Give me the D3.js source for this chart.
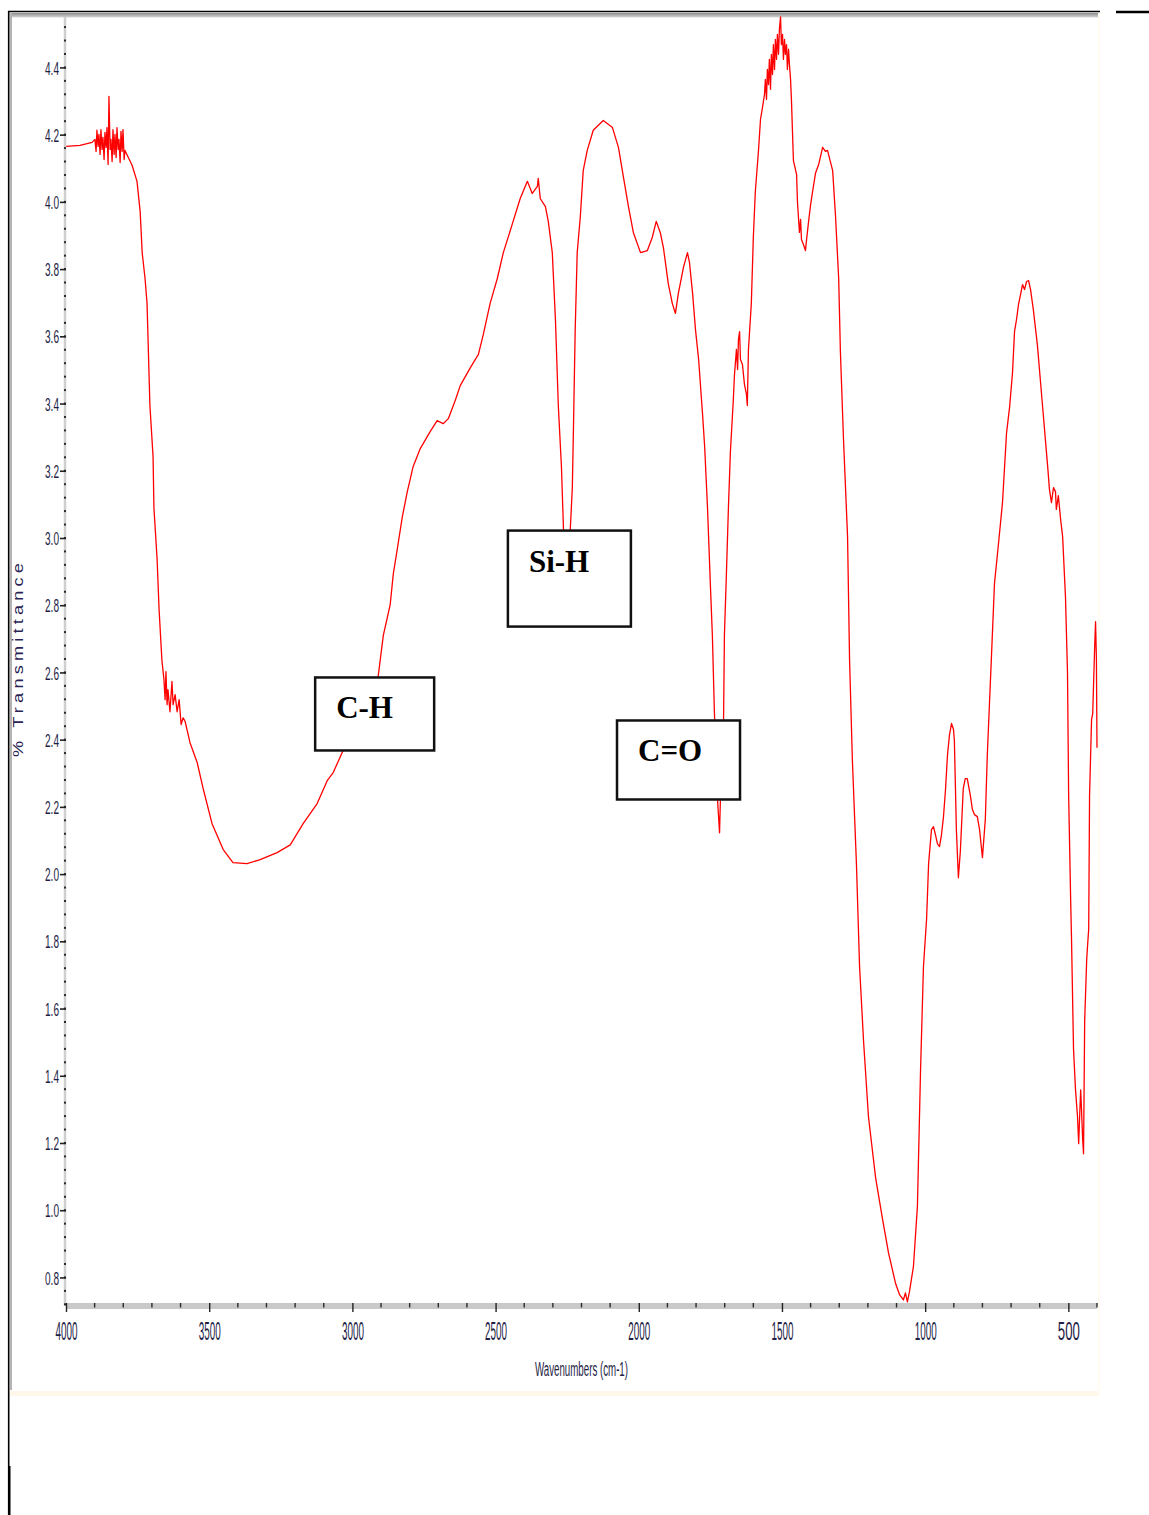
<!DOCTYPE html>
<html>
<head>
<meta charset="utf-8">
<script src="https://cdn.jsdelivr.net/npm/d3@7"></script>
<style>
  html, body { margin: 0; padding: 0; background: #ffffff; }
  svg { display: block; }
</style>
</head>
<body>
<div id="chart"></div>
<script>
// FTIR spectrum: wavenumber (cm-1) and % transmittance
const wavenumber = [
  4000, 3951, 3909, 3899, 3895, 3892, 3888, 3885, 3881, 3878, 3874, 3871, 3867, 3864, 3860, 3857,
  3853, 3850, 3846, 3843, 3839, 3836, 3832, 3829, 3825, 3822, 3818, 3815, 3811, 3808, 3804, 3801,
  3797, 3794, 3769, 3752, 3741, 3734, 3724, 3717, 3713, 3707, 3696, 3693, 3682, 3675, 3665, 3658,
  3654, 3651, 3647, 3644, 3637, 3630, 3626, 3619, 3612, 3605, 3598, 3591, 3584, 3567, 3542, 3521,
  3490, 3451, 3417, 3368, 3322, 3263, 3217, 3172, 3123, 3088, 3067, 3036, 2910, 2892, 2868, 2857,
  2843, 2826, 2809, 2788, 2763, 2728, 2704, 2683, 2665, 2641, 2623, 2588, 2560, 2543, 2519, 2494,
  2473, 2442, 2414, 2389, 2372, 2354, 2351, 2344, 2326, 2316, 2302, 2291, 2281, 2270, 2263, 2253,
  2239, 2232, 2228, 2222, 2215, 2204, 2194, 2180, 2159, 2124, 2092, 2071, 2054, 2036, 2019, 1994,
  1970, 1953, 1939, 1925, 1914, 1897, 1883, 1872, 1862, 1844, 1830, 1823, 1812, 1802, 1791, 1777,
  1770, 1760, 1750, 1743, 1736, 1729, 1725, 1718, 1715, 1708, 1704, 1701, 1694, 1687, 1680, 1670,
  1666, 1659, 1655, 1652, 1648, 1645, 1638, 1631, 1624, 1621, 1617, 1607, 1600, 1593, 1582, 1575,
  1568, 1561, 1558, 1554, 1551, 1547, 1544, 1540, 1537, 1533, 1530, 1526, 1523, 1519, 1516, 1512,
  1509, 1505, 1502, 1498, 1495, 1491, 1488, 1484, 1481, 1477, 1474, 1470, 1467, 1460, 1449, 1446,
  1439, 1435, 1432, 1425, 1418, 1414, 1407, 1400, 1393, 1383, 1372, 1358, 1348, 1341, 1323, 1313,
  1302, 1296, 1285, 1271, 1264, 1254, 1240, 1229, 1215, 1198, 1173, 1149, 1128, 1103, 1089, 1076,
  1069, 1062, 1055, 1041, 1027, 1016, 1006, 995, 988, 978, 971, 964, 957, 950, 943, 936,
  929, 922, 915, 908, 901, 898, 891, 884, 877, 867, 860, 853, 842, 835, 828, 818,
  810, 800, 790, 783, 769, 758, 744, 730, 716, 705, 695, 688, 681, 674, 667, 660,
  653, 646, 639, 632, 622, 608, 590, 572, 566, 559, 552, 545, 542, 535, 527, 520,
  510, 503, 499, 492, 489, 482, 475, 468, 464, 461, 457, 454, 450, 447, 443, 436,
  433, 429, 426, 419, 415, 408, 405, 402, 400
];
const transmittance = [
  4.165, 4.168, 4.177, 4.186, 4.150, 4.213, 4.165, 4.201, 4.141, 4.215, 4.156, 4.192, 4.126, 4.207, 4.162, 4.221,
  4.111, 4.314, 4.156, 4.186, 4.120, 4.215, 4.141, 4.201, 4.132, 4.221, 4.156, 4.186, 4.117, 4.210, 4.150, 4.215,
  4.126, 4.153, 4.108, 4.061, 3.971, 3.849, 3.772, 3.698, 3.576, 3.394, 3.242, 3.090, 2.939, 2.787, 2.635, 2.579,
  2.519, 2.602, 2.504, 2.549, 2.483, 2.573, 2.504, 2.534, 2.483, 2.519, 2.445, 2.465, 2.454, 2.391, 2.332, 2.254,
  2.150, 2.073, 2.034, 2.031, 2.043, 2.064, 2.087, 2.150, 2.210, 2.278, 2.302, 2.361, 2.588, 2.710, 2.802, 2.894,
  2.968, 3.061, 3.135, 3.212, 3.266, 3.317, 3.349, 3.340, 3.355, 3.409, 3.454, 3.507, 3.546, 3.605, 3.698, 3.772,
  3.849, 3.933, 4.010, 4.061, 4.025, 4.046, 4.070, 4.010, 3.986, 3.942, 3.849, 3.650, 3.394, 3.212, 3.028, 2.846,
  3.028, 3.150, 3.332, 3.620, 3.849, 3.957, 4.093, 4.153, 4.213, 4.242, 4.221, 4.162, 4.076, 3.986, 3.909, 3.849,
  3.855, 3.894, 3.942, 3.909, 3.864, 3.757, 3.698, 3.668, 3.727, 3.805, 3.849, 3.820, 3.727, 3.620, 3.531, 3.364,
  3.272, 3.090, 2.861, 2.710, 2.483, 2.311, 2.221, 2.123, 2.221, 2.340, 2.460, 2.710, 2.894, 3.090, 3.257, 3.409,
  3.483, 3.561, 3.501, 3.590, 3.614, 3.531, 3.516, 3.457, 3.427, 3.394, 3.561, 3.698, 3.894, 4.031, 4.153, 4.245,
  4.281, 4.320, 4.364, 4.305, 4.394, 4.349, 4.424, 4.335, 4.439, 4.379, 4.468, 4.394, 4.483, 4.424, 4.498, 4.439,
  4.513, 4.550, 4.468, 4.498, 4.424, 4.483, 4.439, 4.468, 4.394, 4.454, 4.409, 4.364, 4.305, 4.123, 4.082, 4.001,
  3.909, 3.948, 3.888, 3.873, 3.855, 3.888, 3.942, 3.992, 4.031, 4.085, 4.111, 4.162, 4.150, 4.153, 4.093, 3.957,
  3.772, 3.555, 3.290, 3.004, 2.638, 2.335, 2.031, 1.724, 1.501, 1.278, 1.096, 0.974, 0.873, 0.781, 0.748, 0.733,
  0.754, 0.727, 0.757, 0.832, 1.013, 1.421, 1.724, 1.867, 2.031, 2.132, 2.141, 2.117, 2.090, 2.082, 2.117, 2.171,
  2.251, 2.355, 2.415, 2.448, 2.430, 2.397, 2.132, 1.989, 2.070, 2.254, 2.284, 2.284, 2.233, 2.192, 2.177, 2.171,
  2.132, 2.049, 2.162, 2.355, 2.638, 2.864, 2.983, 3.105, 3.311, 3.391, 3.492, 3.614, 3.650, 3.695, 3.724, 3.754,
  3.739, 3.763, 3.766, 3.739, 3.677, 3.573, 3.391, 3.210, 3.144, 3.105, 3.150, 3.138, 3.085, 3.126, 3.055, 3.004,
  2.823, 2.599, 2.233, 1.924, 1.808, 1.480, 1.358, 1.278, 1.198, 1.269, 1.358, 1.298, 1.210, 1.168, 1.564, 1.745,
  1.787, 1.835, 2.233, 2.460, 2.477, 2.680, 2.751, 2.638, 2.376
];

const xTickValues = [4000, 3500, 3000, 2500, 2000, 1500, 1000, 500];
const yTickValues = [0.8, 1.0, 1.2, 1.4, 1.6, 1.8, 2.0, 2.2, 2.4, 2.6, 2.8, 3.0, 3.2, 3.4, 3.6, 3.8, 4.0, 4.2, 4.4];

// Band assignments, anchored at the upper-left corner of each label box
const bandLabels = ["C-H", "Si-H", "C=O"];
const bandAnchorWavenumber = [3130, 2457, 2076];
const bandAnchorTransmittance = [2.585, 3.022, 2.457];

const xTitle = "Wavenumbers (cm-1)";
const yTitle = "% Transmittance";

// ---------------------------------------------------------------
const W = 1149, H = 1515;
const plot = { left: 66, right: 1097, top: 17, bottom: 1306 };
const boxSize = [[119, 73], [123, 96], [123, 79]];

const svg = d3.select("#chart").append("svg")
  .attr("width", W).attr("height", H)
  .attr("viewBox", `0 0 ${W} ${H}`);

const x = d3.scaleLinear().domain([4000, 400]).range([plot.left, plot.right]);
const y = d3.scaleLinear().domain([0.715, 4.55]).range([plot.bottom, plot.top]);

const defs = svg.append("defs");
const grad = defs.append("linearGradient").attr("id", "topBand")
  .attr("x1", 0).attr("y1", 0).attr("x2", 0).attr("y2", 1);
grad.append("stop").attr("offset", "0%").attr("stop-color", "#8c8c8c");
grad.append("stop").attr("offset", "100%").attr("stop-color", "#d6d6d6");

// Page frame
const frame = svg.append("g");
frame.append("rect").attr("x", 10).attr("y", 13).attr("width", 1088).attr("height", 4.5)
  .attr("fill", "url(#topBand)");
frame.append("rect").attr("x", 10).attr("y", 13).attr("width", 2).attr("height", 1377)
  .attr("fill", "#b4b4b4");
frame.append("rect").attr("x", 10).attr("y", 1391).attr("width", 1090).attr("height", 5)
  .attr("fill", "#fff7ea");
frame.append("rect").attr("x", 1098).attr("y", 13).attr("width", 2).attr("height", 1383)
  .attr("fill", "#fffaf2");
frame.append("line").attr("x1", 8).attr("x2", 1100).attr("y1", 11.5).attr("y2", 11.5)
  .attr("stroke", "#000").attr("stroke-width", 1.5);
frame.append("line").attr("x1", 1116).attr("x2", 1149).attr("y1", 12).attr("y2", 12)
  .attr("stroke", "#000").attr("stroke-width", 2.5);
frame.append("line").attr("x1", 8.7).attr("x2", 8.7).attr("y1", 11).attr("y2", 1466)
  .attr("stroke", "#000").attr("stroke-width", 1.6);
frame.append("line").attr("x1", 9.2).attr("x2", 9.2).attr("y1", 1466).attr("y2", H)
  .attr("stroke", "#000").attr("stroke-width", 2.6);

// Spectrum trace
const pts = wavenumber.map((w, i) => [w, transmittance[i]]);
const line = d3.line().x(d => x(d[0])).y(d => y(d[1]));
svg.append("path").datum(pts)
  .attr("d", line)
  .attr("fill", "none")
  .attr("stroke", "#ff0000")
  .attr("stroke-width", 1.3)
  .attr("stroke-linejoin", "round");

// Y axis: light rail with dotted minor ticks
svg.append("line").attr("x1", plot.left - 1).attr("x2", plot.left - 1)
  .attr("y1", plot.top).attr("y2", plot.bottom)
  .attr("stroke", "#cfcfcf").attr("stroke-width", 2.5);
const yMinor = d3.range(0.72, 4.55, 0.04);
svg.append("g").selectAll("rect").data(yMinor).join("rect")
  .attr("x", plot.left - 2).attr("y", d => y(d) - 1)
  .attr("width", 2).attr("height", 2).attr("fill", "#2a2a2a");

const labelColor = "#1e1e46";
const yAxis = svg.append("g").attr("transform", `translate(${plot.left},0)`)
  .call(d3.axisLeft(y).tickValues(yTickValues).tickSize(6).tickPadding(1)
    .tickFormat(d3.format(".1f")));
yAxis.select(".domain").remove();
yAxis.selectAll(".tick line").attr("stroke", "#222").attr("stroke-width", 1.6);
yAxis.selectAll(".tick text")
  .attr("fill", labelColor)
  .attr("font-family", "'Liberation Sans', Arial, sans-serif")
  .attr("font-size", 18)
  .attr("dy", "0.37em")
  .attr("textLength", 14)
  .attr("lengthAdjust", "spacingAndGlyphs");

// X axis: gray band with tick marks
svg.append("rect").attr("x", plot.left).attr("y", plot.bottom - 3)
  .attr("width", plot.right - plot.left).attr("height", 6).attr("fill", "#c9c9c9");
const xMinor = d3.range(400, 4001, 100).filter(d => d % 500 !== 0);
svg.append("g").selectAll("line").data(xMinor).join("line")
  .attr("x1", d => x(d)).attr("x2", d => x(d))
  .attr("y1", plot.bottom - 3).attr("y2", plot.bottom + 1.5)
  .attr("stroke", "#2a2a2a").attr("stroke-width", 1.4);

const xAxis = svg.append("g").attr("transform", `translate(0,${plot.bottom - 3})`)
  .call(d3.axisBottom(x).tickValues(xTickValues).tickSize(9).tickPadding(10)
    .tickFormat(d3.format("d")));
xAxis.select(".domain").remove();
xAxis.selectAll(".tick line").attr("stroke", "#222").attr("stroke-width", 1.4);
xAxis.selectAll(".tick text")
  .attr("fill", labelColor)
  .attr("font-family", "'Liberation Sans', Arial, sans-serif")
  .attr("font-size", 25)
  .attr("textLength", 22)
  .attr("lengthAdjust", "spacingAndGlyphs");

// Axis titles
svg.append("text")
  .attr("x", 535).attr("y", 1376)
  .attr("fill", labelColor)
  .attr("font-family", "'Liberation Sans', Arial, sans-serif")
  .attr("font-size", 20)
  .attr("textLength", 93)
  .attr("lengthAdjust", "spacingAndGlyphs")
  .text(xTitle);

// Vertical title: glyphs slightly widened along the text, then letter-spaced
svg.append("text")
  .attr("transform", "translate(23,757) rotate(-90) scale(1.3,1)")
  .attr("fill", "#2b1f55")
  .attr("font-family", "'Liberation Sans', Arial, sans-serif")
  .attr("font-size", 14)
  .attr("textLength", 194 / 1.3)
  .attr("lengthAdjust", "spacing")
  .text(yTitle);

// Band label boxes
const bands = svg.append("g");
bandLabels.forEach((label, i) => {
  const bx = x(bandAnchorWavenumber[i]);
  const by = y(bandAnchorTransmittance[i]);
  const [bw, bh] = boxSize[i];
  bands.append("rect")
    .attr("x", bx).attr("y", by).attr("width", bw).attr("height", bh)
    .attr("fill", "#ffffff").attr("stroke", "#111").attr("stroke-width", 2.5);
  bands.append("text")
    .attr("x", bx + 21).attr("y", by + 41)
    .attr("font-family", "'Liberation Serif', 'Times New Roman', serif")
    .attr("font-weight", "bold")
    .attr("font-size", 31)
    .attr("fill", "#000")
    .text(label);
});
</script>
</body>
</html>
